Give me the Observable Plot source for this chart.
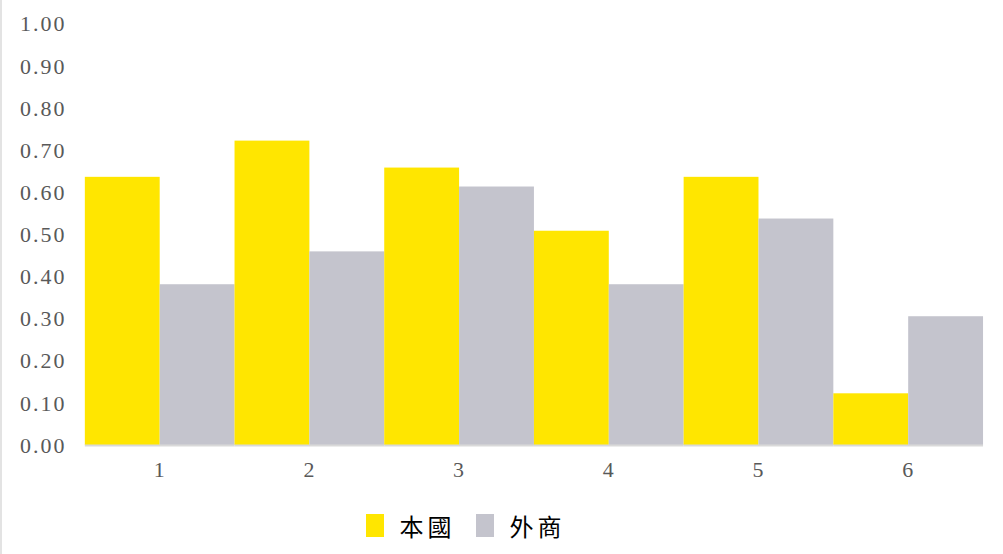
<!DOCTYPE html>
<html>
<head>
<meta charset="utf-8">
<script src="https://cdn.jsdelivr.net/npm/d3@7"></script>
<script src="https://cdn.jsdelivr.net/npm/@observablehq/plot@0.6"></script>
<style>
  html, body { margin: 0; padding: 0; background: #fff; }
  body { width: 1003px; height: 554px; box-sizing: border-box; border-left: 2px solid #e3e3e3; position: relative; overflow: hidden; }
  #chart { position: absolute; left: -2px; top: 0; }
  #legend { position: absolute; left: 0; top: 508px; width: 1003px; display: flex; justify-content: center; align-items: center; font-family: "Noto Sans CJK TC", "Noto Sans CJK SC", sans-serif; font-size: 24px; color: #000; transform: translateX(-38px); }
  .sw { width: 18px; height: 23px; display: inline-block; margin-right: 16px; }
  .item { display: flex; align-items: center; margin: 0 10px; }
</style>
</head>
<body>
<div id="chart"></div>
<div id="legend"></div>
<script>
const categories = ["1", "2", "3", "4", "5", "6"];
const seriesNames = ["本國", "外商"];
const domestic = [0.637, 0.723, 0.659, 0.509, 0.637, 0.123];
const foreign = [0.382, 0.460, 0.614, 0.382, 0.538, 0.306];
const colors = ["#FFE600", "#C4C4CD"];
const yTicks = [0, 0.1, 0.2, 0.3, 0.4, 0.5, 0.6, 0.7, 0.8, 0.9, 1.0];

const data = [];
categories.forEach((c, i) => {
  data.push({cat: c, series: seriesNames[0], value: domestic[i]});
  data.push({cat: c, series: seriesNames[1], value: foreign[i]});
});

const chart = Plot.plot({
  width: 1005,
  height: 491,
  marginLeft: 83,
  marginRight: 18,
  marginTop: 24,
  marginBottom: 45,
  style: {fontFamily: "'Liberation Serif', 'DejaVu Serif', serif", fontSize: "22px", color: "#595959", background: "white"},
  fx: {domain: categories, padding: 0, axis: "bottom", label: null, tickSize: 0, tickPadding: 16},
  x: {domain: seriesNames, padding: 0, axis: null},
  y: {domain: [0, 1], ticks: yTicks, tickFormat: d3.format(".2f"), tickSize: 0, tickPadding: 19, label: null},
  color: {domain: seriesNames, range: colors},
  marks: [
    Plot.barY(data, {fx: "cat", x: "series", y: "value", fill: "series", inset: 0}),
    Plot.ruleY([0], {stroke: "#d9d9d9", strokeWidth: 2})
  ]
});
chart.querySelectorAll("text").forEach(t => t.setAttribute("letter-spacing", "2"));
document.getElementById("chart").appendChild(chart);

const legend = document.getElementById("legend");
seriesNames.forEach((s, i) => {
  const item = document.createElement("div");
  item.className = "item";
  const sw = document.createElement("span");
  sw.className = "sw";
  sw.style.background = colors[i];
  const tx = document.createElement("span");
  tx.textContent = s;
  tx.style.letterSpacing = "4px";
  item.appendChild(sw);
  item.appendChild(tx);
  legend.appendChild(item);
});
</script>
</body>
</html>
